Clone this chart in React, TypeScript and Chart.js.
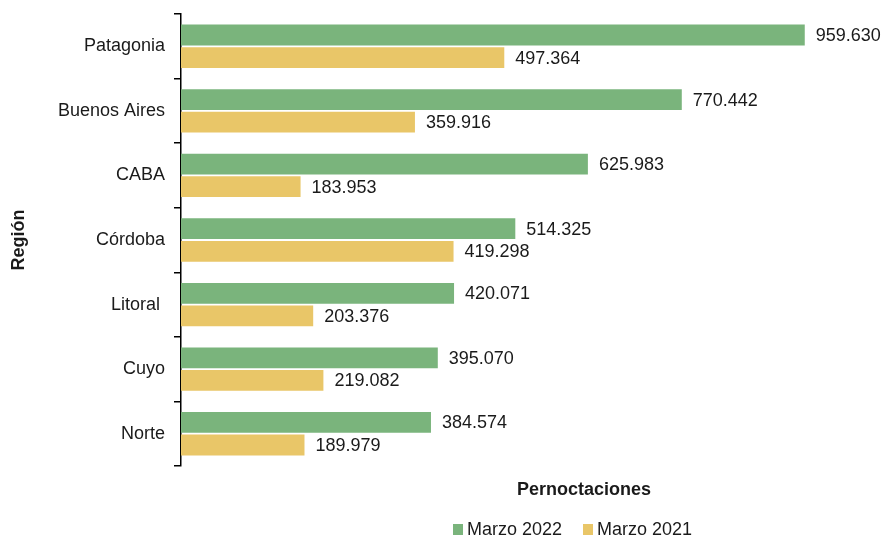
import React, { useEffect, useRef } from "react";
import { Chart, registerables } from "chart.js";

Chart.register(...registerables);

const regions = ["Patagonia", "Buenos Aires", "CABA", "Córdoba", "Litoral ", "Cuyo", "Norte"];
const marzo2022 = [959630, 770442, 625983, 514325, 420071, 395070, 384574];
const marzo2021 = [497364, 359916, 183953, 419298, 203376, 219082, 189979];
const seriesNames = ["Marzo 2022", "Marzo 2021"];
const xTitle = "Pernoctaciones";
const yTitle = "Región";

const GREEN = "#7AB47C";
const YELLOW = "#E9C668";
const TEXT = "#1a1a1a";
const FONT = "Liberation Sans, Arial, Helvetica, sans-serif";

function fmt(v: number): string {
  return String(v).replace(/\B(?=(\d{3})+(?!\d))/g, ".");
}

const overlay = {
  id: "overlay",
  afterDatasetsDraw(chart: any) {
    const ctx = chart.ctx;
    ctx.save();
    ctx.fillStyle = TEXT;
    ctx.font = `18px ${FONT}`;
    ctx.textBaseline = "middle";
    ctx.textAlign = "left";
    chart.data.datasets.forEach((ds: any, di: number) => {
      const meta = chart.getDatasetMeta(di);
      meta.data.forEach((bar: any, i: number) => {
        ctx.fillText(fmt(ds.data[i]), bar.x + 11, bar.y + 1);
      });
    });
    // axis titles
    ctx.font = `bold 18px ${FONT}`;
    ctx.textAlign = "center";
    const area = chart.chartArea;
    ctx.fillText(xTitle, 584, 490);
    ctx.save();
    ctx.translate(19, (area.top + area.bottom) / 2);
    ctx.rotate(-Math.PI / 2);
    ctx.fillText(yTitle, 0, 0);
    ctx.restore();
    // legend
    ctx.font = `18px ${FONT}`;
    ctx.textAlign = "left";
    const items = [
      { label: seriesNames[0], color: GREEN, x: 453 },
      { label: seriesNames[1], color: YELLOW, x: 583 },
    ];
    items.forEach((it) => {
      ctx.fillStyle = it.color;
      ctx.fillRect(it.x, 524, 10, 11);
      ctx.fillStyle = TEXT;
      ctx.fillText(it.label, it.x + 14, 530);
    });
    ctx.restore();
  },
};

export default function App() {
  const ref = useRef<HTMLCanvasElement>(null);
  useEffect(() => {
    if (!ref.current) return;
    const chart = new Chart(ref.current, {
      type: "bar",
      data: {
        labels: regions,
        datasets: [
          {
            label: seriesNames[0],
            data: marzo2022,
            backgroundColor: GREEN,
            barPercentage: 0.92,
            categoryPercentage: 0.7,
          },
          {
            label: seriesNames[1],
            data: marzo2021,
            backgroundColor: YELLOW,
            barPercentage: 0.92,
            categoryPercentage: 0.7,
          },
        ],
      },
      options: {
        indexAxis: "y",
        animation: false,
        responsive: false,
        maintainAspectRatio: false,
        layout: { padding: { top: 14, right: 54, bottom: 75, left: 0 } },
        plugins: { legend: { display: false }, tooltip: { enabled: false } },
        scales: {
          x: {
            display: false,
            min: 0,
            max: 1000000,
          },
          y: {
            afterFit: (scale: any) => {
              scale.width = 181;
              scale.paddingTop = 0;
              scale.paddingBottom = 0;
            },
            border: { display: true, color: "#000", width: 1.5 },
            grid: {
              display: true,
              drawOnChartArea: false,
              offset: true,
              tickLength: 7,
              color: "#000",
              lineWidth: 1.5,
            },
            ticks: {
              color: TEXT,
              padding: 9,
              font: { family: FONT, size: 18 },
            },
          },
        },
      },
      plugins: [overlay],
    });
    return () => chart.destroy();
  }, []);
  return (
    <div style={{ position: "fixed", left: 0, top: 0, width: 885, height: 541, background: "#fff" }}>
      <canvas ref={ref} width={885} height={541} style={{ width: 885, height: 541 }} />
    </div>
  );
}
